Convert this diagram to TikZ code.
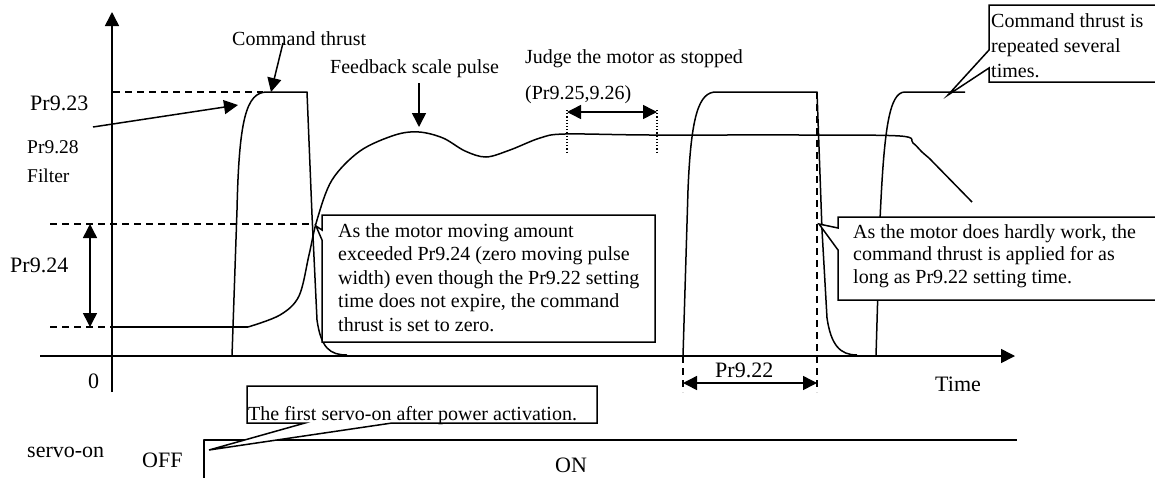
\documentclass[tikz,border=0pt]{standalone}
\usepackage{fontspec}
\setmainfont{Liberation Serif}
\usetikzlibrary{arrows.meta}
\begin{document}
\begin{tikzpicture}[x=1pt,y=-1pt,
  curve/.style={line width=1.5pt,line join=round},
  axis/.style={line width=1.6pt},
  tip/.style={-{Triangle[length=14pt,width=14pt]}},
  tips/.style={{Triangle[length=14pt,width=14pt]}-{Triangle[length=14pt,width=14pt]}},
  guide/.style={line width=1.4pt,dash pattern=on 7pt off 5pt},
  dots/.style={line width=1.1pt,dash pattern=on 1.2pt off 2pt},
  callout/.style={line width=1.5pt,fill=white,line join=miter},
  lbl/.style={inner sep=0pt,anchor=base west,font=\fontsize{22pt}{26pt}\selectfont},
  sml/.style={inner sep=0pt,anchor=base west,font=\fontsize{19.5pt}{23pt}\selectfont},
  txt/.style={inner sep=0pt,anchor=base west,font=\fontsize{20pt}{23.5pt}\selectfont},
  boxtxt/.style={inner sep=0pt,anchor=north west,align=left},
]
\fill[white] (0,0) rectangle (1155,477);
\clip (0,0) rectangle (1155,477);

% ---------- axes ----------
\coordinate (yb) at (112,392);
\coordinate (yt) at (112,12);
\coordinate (xl) at (40,356);
\coordinate (xr) at (1015,356);
\draw[axis,tip] (yb) -- (yt);
\draw[axis,tip] (xl) -- (xr);
\node[lbl] (zero) at (88,388) {0};
\node[lbl] (time) at (935,391) {Time};

% ---------- reference levels ----------
\coordinate (l23a) at (113,92);  \coordinate (l23b) at (263,92);
\coordinate (u24a) at (50,224);  \coordinate (u24b) at (310,224);
\coordinate (d24a) at (50,327);  \coordinate (d24b) at (112,327);
\draw[guide] (l23a) -- (l23b);
\draw[guide] (u24a) -- (u24b);
\draw[guide] (d24a) -- (d24b);

\coordinate (a24t) at (90,224); \coordinate (a24b) at (90,327);
\draw[curve,tips] (a24t) -- (a24b);
\node[lbl] (p23) at (30,110) {Pr9.23};
\node[lbl] (p24) at (10,272) {Pr9.24};
\node[sml] (p28) at (27,153) {Pr9.28};
\node[sml] (filt) at (27,182) {Filter};
\coordinate (f0) at (93,127); \coordinate (f1) at (238,105);
\draw[curve,tip] (f0) -- (f1);

% ---------- command thrust, first pulse ----------
\draw[curve] (232,356) -- (237,210) .. controls (239,120) and (246,92) .. (267,92)
  -- (307,92) -- (312,215) -- (317,320) .. controls (321,348) and (330,355) .. (347,355);

% ---------- feedback scale pulse ----------
\draw[curve] (d24b) -- (248,327);
\draw[curve] plot[smooth,tension=0.55] coordinates {
  (248,327) (280,315) (299,296) (309,255) (317,220) (332,180) (360,151)
  (395,135) (419,132) (443,138) (465,151) (486,157) (510,150) (540,138)
  (565,134) (650,135) (800,135) (900,136) (913,143) (922,152) (929,158)};
\draw[curve] (929,158) -- (972,202);

% ---------- command thrust, second and third pulses ----------
\draw[curve] (683,356) -- (688,190) .. controls (691,115) and (699,92) .. (716,92)
  -- (817,92) -- (822,230) -- (827,318) .. controls (831,345) and (840,355) .. (857,355);
\draw[curve] (876,356) -- (880,220) .. controls (884,130) and (889,92) .. (905,92) -- (965,92);

% ---------- upper labels ----------
\node[txt] (ct) at (232,45) {Command thrust};
\coordinate (ct0) at (283,43); \coordinate (ct1) at (271,92);
\draw[curve,tip] (ct0) -- (ct1);

\node[txt] (fb) at (330,73) {Feedback scale pulse};
\coordinate (fb0) at (419,83); \coordinate (fb1) at (419,127);
\draw[curve,tip] (fb0) -- (fb1);

\node[txt] (judge) at (525,63) {Judge the motor as stopped};
\node[txt] (jpar) at (525,99) {(Pr9.25,9.26)};
\coordinate (j0t) at (567,110); \coordinate (j0b) at (567,152);
\coordinate (j1t) at (657,110); \coordinate (j1b) at (657,152);
\draw[dots] (j0t) -- (j0b);
\draw[dots] (j1t) -- (j1b);
\coordinate (ja) at (567,112); \coordinate (jb) at (657,112);
\draw[curve,tips] (ja) -- (jb);

% ---------- Pr9.22 interval ----------
\coordinate (s0t) at (683,356); \coordinate (s0b) at (683,392);
\coordinate (s1t) at (817,92);  \coordinate (s1b) at (817,392);
\draw[guide] (s0t) -- (s0b);
\draw[guide] (s1t) -- (s1b);
\coordinate (sa) at (683,383); \coordinate (sb) at (817,383);
\draw[curve,tips] (sa) -- (sb);
\node[lbl] (p22) at (715,377) {Pr9.22};

% ---------- callouts ----------
\draw[callout] (322,215) -- (655,215) -- (655,342) -- (322,342) -- (322,240)
  -- (316,226) -- (322,230) -- cycle;
\node[boxtxt,font=\fontsize{20pt}{23.5pt}\selectfont] (c1) at (338,223)
  {As the motor moving amount\\
   exceeded Pr9.24 (zero moving pulse\\
   width) even though the Pr9.22 setting\\
   time does not expire, the command\\
   thrust is set to zero.};

\draw[callout] (838,217) -- (1170,217) -- (1170,300) -- (838,300) -- (838,250)
  -- (819,224) -- (838,228) -- cycle;
\node[boxtxt,font=\fontsize{20pt}{22.5pt}\selectfont] (c2) at (853,224)
  {As the motor does hardly work, the\\
   command thrust is applied for as\\
   long as Pr9.22 setting time.};

\draw[callout] (989,5) -- (1170,5) -- (1170,82) -- (989,82) -- (989,68)
  -- (948,95) -- (989,50) -- cycle;
\node[boxtxt,font=\fontsize{20pt}{25pt}\selectfont] (c3) at (991,13)
  {Command thrust is\\
   repeated several\\
   times.};

% ---------- servo-on signal ----------
\coordinate (sv0) at (204,480);
\coordinate (sv1) at (204,440);
\coordinate (sv2) at (1017,440);
\draw[curve] (sv0) -- (sv1) -- (sv2);
\node[lbl] (svlab) at (27,457) {servo-on};
\node[lbl] (off) at (142,467) {OFF};
\node[lbl] (on) at (555,472) {ON};

\draw[callout] (247,386) -- (597,386) -- (597,423) -- (392,423) -- (209,450)
  -- (305,423) -- (247,423) -- cycle;
\node[txt] (c4) at (248,420) {The first servo-on after power activation.};
\end{tikzpicture}
\end{document}
